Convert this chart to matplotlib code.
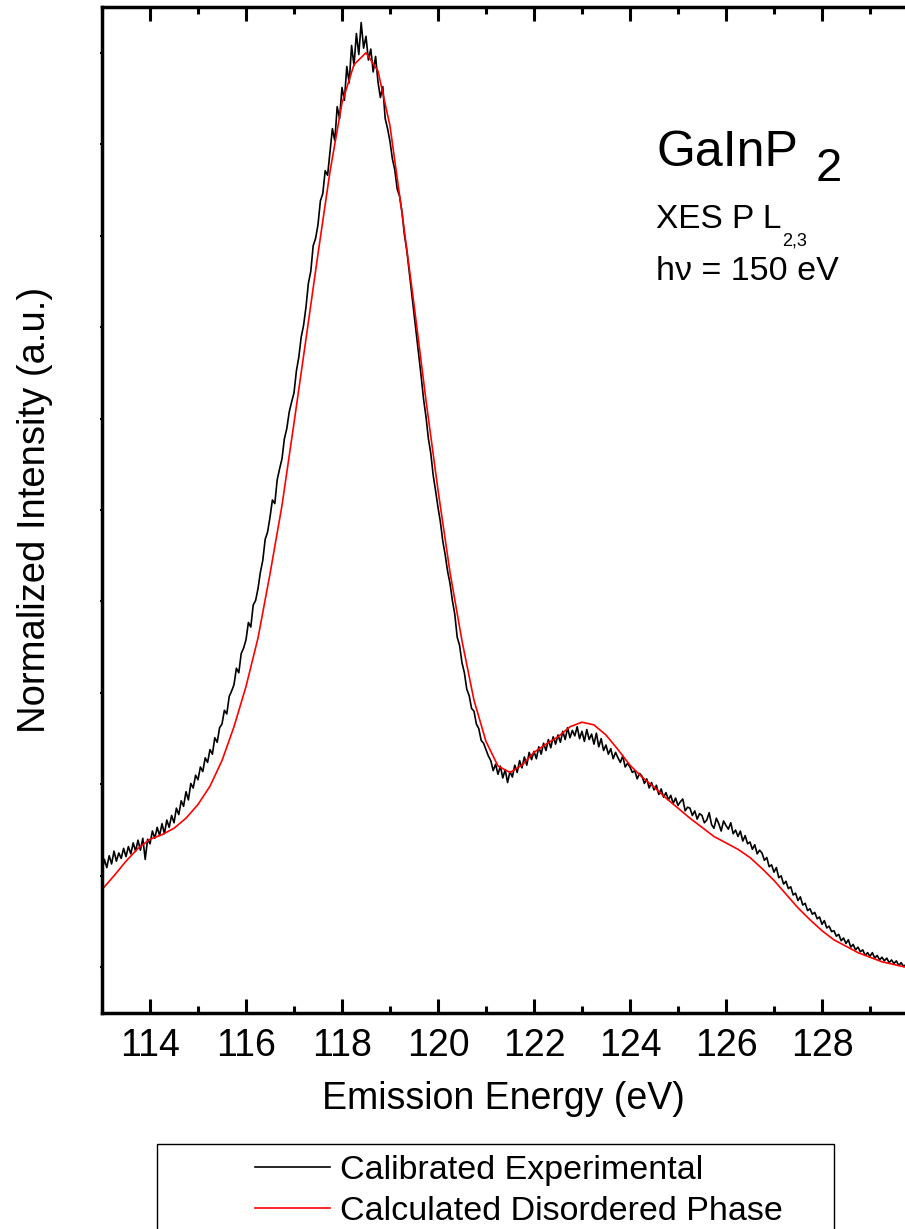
import numpy as np
import matplotlib
matplotlib.use("Agg")
import matplotlib.pyplot as plt
from matplotlib.ticker import MultipleLocator
from matplotlib.patches import Rectangle

plt.rcParams['font.family'] = ['Liberation Sans', 'DejaVu Sans']

# calculated disordered phase, 0.25 eV steps from 113.00 eV
calc_energy = np.arange(113.0, 129.76, 0.25)
calc_intensity = [
    0.085, 0.100, 0.116, 0.130, 0.140, 0.145, 0.152, 0.163,
    0.178, 0.198, 0.226, 0.263, 0.307, 0.360, 0.430, 0.505,
    0.595, 0.687, 0.780, 0.870, 0.945, 0.987, 1.000, 0.980,
    0.920, 0.825, 0.725, 0.620, 0.522, 0.432, 0.357, 0.292,
    0.247, 0.220, 0.213, 0.221, 0.235, 0.244, 0.252, 0.263,
    0.268, 0.265, 0.254, 0.238, 0.221, 0.208, 0.197, 0.185,
    0.174, 0.163, 0.153, 0.143, 0.136, 0.129, 0.120, 0.108,
    0.095, 0.080, 0.065, 0.052, 0.040, 0.030, 0.023, 0.016,
    0.011, 0.006, 0.003, 0.000,
]

# calibrated experimental spectrum, 0.05 eV steps from 113.00 eV
exp_energy = np.arange(113.0, 129.76, 0.05)
exp_intensity = [
    0.104, 0.118, 0.109, 0.122, 0.113, 0.127, 0.116, 0.125, 0.119, 0.130,
    0.121, 0.132, 0.124, 0.136, 0.127, 0.139, 0.128, 0.141, 0.118, 0.140,
    0.135, 0.149, 0.141, 0.153, 0.144, 0.157, 0.146, 0.161, 0.153, 0.166,
    0.158, 0.174, 0.167, 0.182, 0.176, 0.192, 0.183, 0.201, 0.196, 0.210,
    0.205, 0.219, 0.214, 0.229, 0.224, 0.238, 0.233, 0.251, 0.246, 0.262,
    0.266, 0.281, 0.277, 0.296, 0.302, 0.309, 0.327, 0.322, 0.343, 0.349,
    0.358, 0.377, 0.372, 0.396, 0.401, 0.414, 0.432, 0.445, 0.468, 0.476,
    0.492, 0.511, 0.507, 0.533, 0.545, 0.556, 0.578, 0.589, 0.607, 0.618,
    0.628, 0.652, 0.667, 0.689, 0.702, 0.722, 0.748, 0.761, 0.789, 0.797,
    0.812, 0.838, 0.846, 0.871, 0.866, 0.892, 0.917, 0.904, 0.941, 0.928,
    0.962, 0.948, 0.985, 0.967, 1.008, 0.986, 1.021, 0.998, 1.033, 1.005,
    1.018, 0.992, 1.004, 0.979, 0.996, 0.968, 0.951, 0.963, 0.928, 0.917,
    0.903, 0.884, 0.872, 0.851, 0.843, 0.826, 0.801, 0.784, 0.761, 0.738,
    0.716, 0.692, 0.668, 0.646, 0.621, 0.602, 0.578, 0.562, 0.538, 0.521,
    0.503, 0.487, 0.466, 0.451, 0.433, 0.420, 0.401, 0.386, 0.361, 0.352,
    0.333, 0.322, 0.304, 0.297, 0.283, 0.280, 0.266, 0.261, 0.248, 0.245,
    0.238, 0.231, 0.226, 0.215, 0.222, 0.211, 0.220, 0.207, 0.216, 0.202,
    0.214, 0.208, 0.221, 0.213, 0.226, 0.218, 0.230, 0.221, 0.235, 0.227,
    0.236, 0.228, 0.241, 0.233, 0.245, 0.237, 0.249, 0.240, 0.252, 0.244,
    0.254, 0.246, 0.258, 0.249, 0.262, 0.251, 0.259, 0.253, 0.263, 0.250,
    0.258, 0.247, 0.260, 0.249, 0.255, 0.244, 0.256, 0.241, 0.250, 0.237,
    0.243, 0.233, 0.239, 0.228, 0.235, 0.229, 0.224, 0.231, 0.219, 0.223,
    0.219, 0.213, 0.215, 0.206, 0.212, 0.209, 0.201, 0.206, 0.196, 0.202,
    0.194, 0.199, 0.189, 0.195, 0.186, 0.191, 0.183, 0.188, 0.179, 0.185,
    0.177, 0.181, 0.184, 0.171, 0.175, 0.174, 0.166, 0.171, 0.162, 0.168,
    0.166, 0.158, 0.161, 0.169, 0.156, 0.152, 0.163, 0.157, 0.149, 0.160,
    0.155, 0.151, 0.158, 0.146, 0.150, 0.143, 0.149, 0.138, 0.144, 0.135,
    0.137, 0.129, 0.134, 0.124, 0.128, 0.125, 0.117, 0.120, 0.110, 0.112,
    0.104, 0.109, 0.098, 0.100, 0.091, 0.094, 0.086, 0.088, 0.079, 0.081,
    0.073, 0.077, 0.068, 0.070, 0.062, 0.064, 0.058, 0.060, 0.053, 0.055,
    0.047, 0.051, 0.043, 0.045, 0.039, 0.040, 0.034, 0.036, 0.029, 0.032,
    0.026, 0.030, 0.022, 0.025, 0.019, 0.022, 0.017, 0.019, 0.013, 0.016,
    0.012, 0.016, 0.010, 0.013, 0.008, 0.011, 0.007, 0.010, 0.005, 0.008,
    0.004, 0.007, 0.002, 0.005, 0.001, 0.003,
]

fig = plt.figure(figsize=(9.05, 12.29), dpi=100)
ax = fig.add_axes([102 / 905, 216 / 1229, 803 / 905, 1006 / 1229])

ax.plot(exp_energy, exp_intensity, color='black', lw=1.2, label='Calibrated Experimental')
ax.plot(calc_energy, calc_intensity, color='red', lw=1.2, label='Calculated Disordered Phase')

ax.set_xlim(113, 129.73)
ax.set_ylim(-0.05, 1.05)
ax.xaxis.set_major_locator(MultipleLocator(2))
ax.xaxis.set_minor_locator(MultipleLocator(1))
ax.yaxis.set_major_locator(MultipleLocator(0.1))
ax.tick_params(axis='x', which='major', direction='in', top=True, length=10, width=2.2,
               labelsize=27, pad=11)
ax.tick_params(axis='x', which='minor', direction='in', top=True, length=5, width=2.2)
ax.tick_params(axis='y', which='major', direction='inout', length=3, width=1.5, labelleft=False)
for s in ['left', 'bottom', 'top']:
    ax.spines[s].set_linewidth(2.5)
ax.spines['right'].set_visible(False)

ax.set_xlabel('Emission Energy (eV)', fontsize=27, labelpad=12)
ax.set_ylabel('Normalized Intensity (a.u.)', fontsize=27.5, labelpad=34)

t = ax.text(0.690, 0.842, 'GaInP', transform=ax.transAxes, fontsize=36)
ax.annotate('2', xy=(1, 0), xycoords=t, xytext=(18, -5), textcoords='offset pixels',
            fontsize=34, va='baseline')
t2 = ax.text(0.690, 0.780, 'XES P L', transform=ax.transAxes, fontsize=24)
ax.annotate('2,3', xy=(1, 0), xycoords=t2, xytext=(1, -10), textcoords='offset pixels',
            fontsize=13, va='baseline')
ax.text(0.690, 0.729, 'h\u03bd = 150 eV', transform=ax.transAxes, fontsize=24.5)

fig.patches.append(Rectangle((157 / 905, -0.05), 677 / 905, 85 / 1229 + 0.05,
                             transform=fig.transFigure, fill=False, edgecolor='black', lw=1))
ax.legend(loc='upper left', bbox_to_anchor=(255 / 905, 1 - 1155 / 1229),
          bbox_transform=fig.transFigure, frameon=False, fontsize=24.5,
          handlelength=2.2, handletextpad=0.3, labelspacing=0.3, borderpad=0, borderaxespad=0)

fig.savefig('out.png', dpi=100)
